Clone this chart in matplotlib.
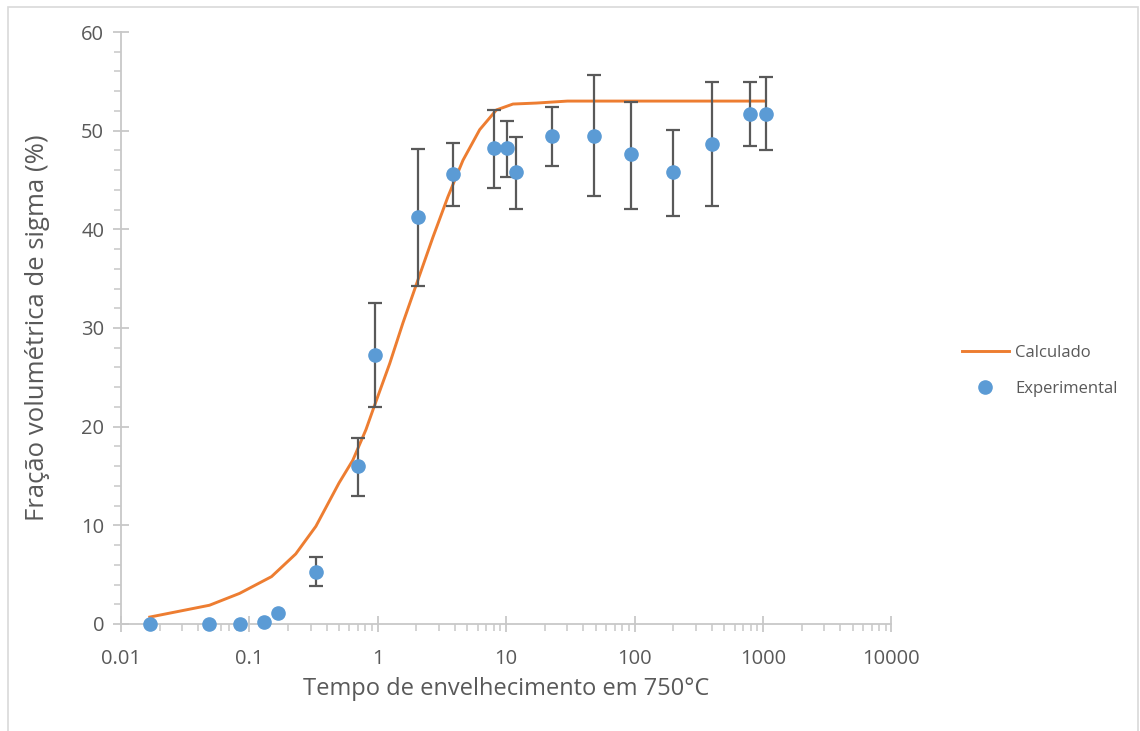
import matplotlib
matplotlib.use("Agg")
import matplotlib.pyplot as plt
import matplotlib.ticker as mticker
from matplotlib.patches import Rectangle

# experimental points: aging time (h), sigma fraction (%), error bar limits
tempo_exp = [0.0168, 0.049, 0.084, 0.13, 0.167, 0.33, 0.70, 0.95, 2.05, 3.84,
             8.0, 10.1, 11.9, 22.9, 47.9, 93, 198, 398, 785, 1047]
fracao_exp = [0.0, 0.0, 0.0, 0.2, 1.1, 5.3, 16.0, 27.3, 41.2, 45.6,
              48.2, 48.2, 45.8, 49.5, 49.5, 47.6, 45.8, 48.6, 51.7, 51.7]
erro_inf = [None, None, None, None, None, 3.8, 13.0, 22.0, 34.3, 42.4,
            44.2, 45.3, 42.1, 46.4, 43.4, 42.1, 41.4, 42.4, 48.4, 48.0]
erro_sup = [None, None, None, None, None, 6.8, 18.8, 32.5, 48.1, 48.8,
            52.1, 51.0, 49.4, 52.4, 55.6, 52.9, 50.1, 54.9, 54.9, 55.4]

# calculated curve
tempo_calc = [0.0168, 0.049, 0.084, 0.149, 0.23, 0.33, 0.50, 0.64, 0.81, 0.918,
              1.24, 1.57, 2.06, 2.69, 3.52, 4.61, 6.22, 8.39, 11.3, 17.2,
              30.0, 1047]
fracao_calc = [0.7, 1.9, 3.1, 4.8, 7.1, 9.9, 14.3, 16.6, 19.7, 21.7,
               26.4, 30.5, 34.9, 39.2, 43.3, 47.0, 50.1, 52.1, 52.7, 52.8,
               53.0, 53.0]

x_ticks = [0.01, 0.1, 1, 10, 100, 1000, 10000]
x_tick_labels = ['0.01', '0.1', '1', '10', '100', '1000', '10000']

plt.rcParams['font.family'] = ['Open Sans', 'DejaVu Sans']
cinza = '#595959'
eixo = '#C8C8C8'

fig = plt.figure(figsize=(11.4, 7.31), dpi=100)
ax = fig.add_axes([0.106, 0.1464, 0.676, 0.8098])

# light frame around the chart area
fig.patches.append(Rectangle((8 / 1140, -0.01), 1130 / 1140, 1 - 7 / 731 + 0.01,
                             transform=fig.transFigure, fill=False,
                             edgecolor='#D9D9D9', linewidth=1.2))

ax.plot(tempo_calc, fracao_calc, color='#ED7D31', linewidth=2.1,
        label='Calculado', zorder=2, solid_joinstyle='round')

# error bars only where limits exist
xe, ye, lo, hi = [], [], [], []
for t, f, a, b in zip(tempo_exp, fracao_exp, erro_inf, erro_sup):
    if a is not None:
        xe.append(t)
        ye.append(f)
        lo.append(f - a)
        hi.append(b - f)
ax.errorbar(xe, ye, yerr=[lo, hi], fmt='none', ecolor=cinza,
            elinewidth=1.6, capsize=5, capthick=1.6, zorder=3)
ax.plot(tempo_exp, fracao_exp, 'o', color='#5B9BD5', markersize=9.5,
        label='Experimental', zorder=4, clip_on=False)

ax.set_xscale('log')
ax.set_xlim(0.01, 10000)
ax.set_ylim(0, 60)
ax.set_xticks(x_ticks)
ax.set_xticklabels(x_tick_labels)
ax.xaxis.set_minor_locator(mticker.LogLocator(base=10, subs=range(2, 10), numticks=100))
ax.xaxis.set_minor_formatter(mticker.NullFormatter())
ax.yaxis.set_major_locator(mticker.MultipleLocator(10))
ax.yaxis.set_minor_locator(mticker.MultipleLocator(2))

for s in ['top', 'right']:
    ax.spines[s].set_visible(False)
for s in ['left', 'bottom']:
    ax.spines[s].set_color(eixo)
    ax.spines[s].set_linewidth(1.3)

ax.tick_params(which='major', direction='inout', length=12, width=1.3,
               color=eixo, labelcolor=cinza, labelsize=14.5)
ax.tick_params(which='minor', direction='out', length=5, width=1.1, color=eixo)
ax.tick_params(axis='x', which='major', pad=12)
ax.tick_params(axis='y', which='major', pad=6)

ax.set_xlabel('Tempo de envelhecimento em 750°C', fontsize=17, color=cinza, labelpad=6)
ax.set_ylabel('Fração volumétrica de sigma (%)', fontsize=18.5, color=cinza, labelpad=22)

leg = ax.legend(loc='center left', bbox_to_anchor=(1.072, 0.427), frameon=False,
                fontsize=12, labelcolor=cinza, handlelength=2.8,
                labelspacing=1.2, handletextpad=0.4)

fig.savefig('out.png', dpi=100)
